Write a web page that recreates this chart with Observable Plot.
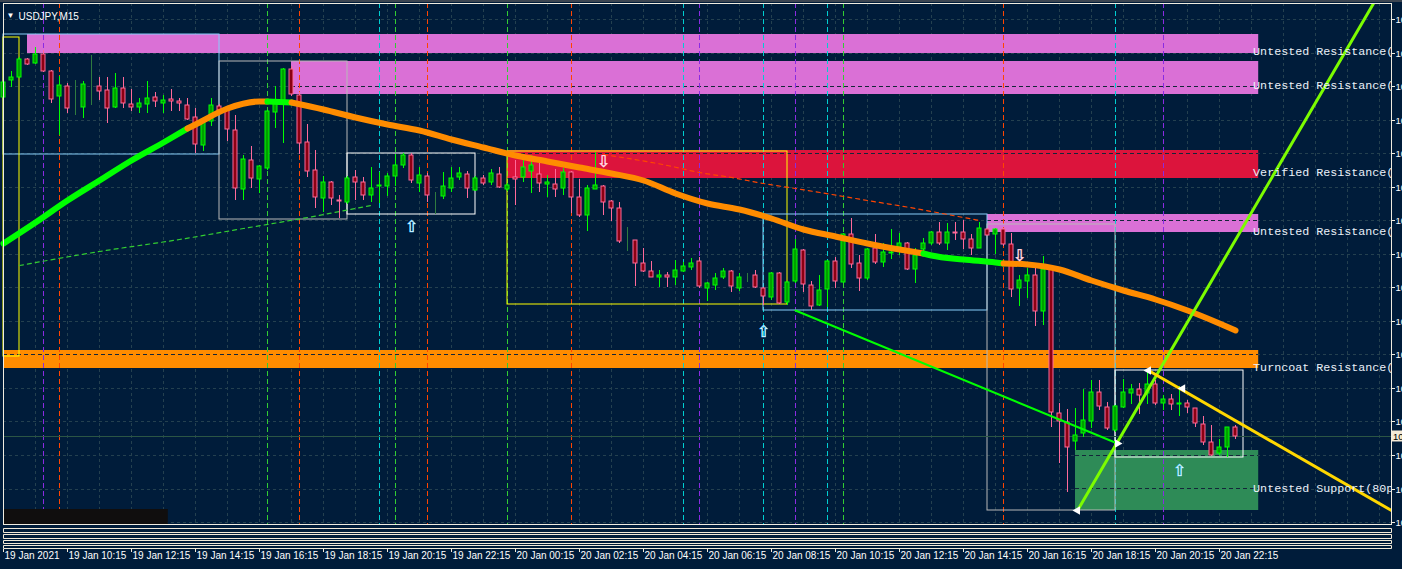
<!DOCTYPE html>
<html><head><meta charset="utf-8">
<script src="https://cdn.jsdelivr.net/npm/d3@7"></script>
<script src="https://cdn.jsdelivr.net/npm/@observablehq/plot@0.6"></script>
<style>
html,body{margin:0;padding:0;background:#001c3a;overflow:hidden;width:1402px;height:569px;}
#chart svg{display:block;}
</style></head><body><div id="chart"></div>
<script>
// ---------- data ----------
const symbol = "USDJPY,M15";
const timeLabels = ["19 Jan 2021","19 Jan 10:15","19 Jan 12:15","19 Jan 14:15","19 Jan 16:15","19 Jan 18:15","19 Jan 20:15","19 Jan 22:15","20 Jan 00:15","20 Jan 02:15","20 Jan 04:15","20 Jan 06:15","20 Jan 08:15","20 Jan 10:15","20 Jan 12:15","20 Jan 14:15","20 Jan 16:15","20 Jan 18:15","20 Jan 20:15","20 Jan 22:15"];
const barsPerLabel = 8;
const priceTicks = [104.100,104.066,104.033,103.999,103.966,103.932,103.899,103.865,103.832,103.798,103.765,103.731,103.698,103.664,103.630,103.597];

const opens = [104.022,104.039,104.042,104.060,104.056,104.065,104.048,104.023,104.033,104.012,
104.012,104.034,104.033,104.029,104.012,104.031,104.015,104.012,104.015,104.022,
104.016,104.020,104.018,104.014,104.002,103.974,103.998,104.013,104.009,103.989,
103.930,103.959,103.940,103.951,104.007,104.016,104.050,104.024,103.977,103.949,
103.921,103.937,103.919,103.917,103.942,103.937,103.924,103.933,103.933,103.943,
103.954,103.964,103.936,103.943,103.923,103.923,103.931,103.942,103.945,103.929,
103.941,103.937,103.945,103.930,103.942,103.942,103.948,103.945,103.935,103.935,
103.931,103.947,103.922,103.904,103.930,103.933,103.918,103.911,103.879,103.879,
103.856,103.848,103.842,103.844,103.842,103.848,103.852,103.858,103.831,103.834,
103.842,103.848,103.831,103.844,103.844,103.831,103.822,103.846,103.817,103.838,
103.869,103.834,103.814,103.830,103.858,103.837,103.885,103.856,103.841,103.871,
103.857,103.866,103.872,103.876,103.850,103.870,103.876,103.887,103.876,103.887,
103.887,103.880,103.871,103.890,103.885,103.890,103.875,103.831,103.838,103.844,
103.808,103.850,103.706,103.697,103.678,103.686,103.698,103.727,103.712,103.689,
103.712,103.726,103.730,103.726,103.735,103.716,103.720,103.715,103.716,103.711,
103.695,103.677,103.666,103.672,103.692];
const highs = [104.041,104.048,104.062,104.061,104.072,104.069,104.049,104.043,104.036,104.039,
104.038,104.064,104.042,104.042,104.046,104.042,104.030,104.021,104.038,104.027,
104.024,104.030,104.021,104.021,104.011,104.002,104.021,104.015,104.012,104.004,
103.964,103.973,103.954,104.009,104.033,104.051,104.053,104.027,103.995,103.969,
103.943,103.938,103.924,103.943,103.949,103.942,103.952,103.947,103.946,103.965,
103.966,103.966,103.952,103.946,103.927,103.947,103.952,103.952,103.948,103.943,
103.944,103.950,103.952,103.936,103.959,103.959,103.964,103.956,103.944,103.950,
103.951,103.948,103.940,103.934,103.967,103.934,103.919,103.917,103.892,103.879,
103.871,103.858,103.849,103.847,103.859,103.857,103.861,103.862,103.837,103.846,
103.851,103.849,103.846,103.846,103.849,103.832,103.847,103.847,103.838,103.880,
103.870,103.838,103.844,103.859,103.862,103.886,103.901,103.864,103.871,103.885,
103.876,103.890,103.886,103.877,103.871,103.881,103.888,103.897,103.896,103.897,
103.899,103.885,103.897,103.891,103.891,103.891,103.886,103.844,103.851,103.851,
103.863,103.854,103.716,103.710,103.711,103.730,103.739,103.739,103.717,103.714,
103.740,103.735,103.736,103.748,103.739,103.724,103.725,103.733,103.719,103.711,
103.703,103.694,103.680,103.692,103.694];
const lows = [104.019,104.032,104.041,104.054,104.055,104.047,104.016,103.984,104.006,104.004,
104.001,104.014,104.019,103.996,104.011,104.011,104.008,104.006,104.006,104.012,
104.006,104.008,104.008,103.999,103.966,103.968,103.993,104.006,103.978,103.919,
103.919,103.931,103.926,103.949,103.991,103.976,104.023,103.965,103.942,103.911,
103.907,103.914,103.901,103.915,103.919,103.919,103.917,103.916,103.923,103.933,
103.951,103.936,103.927,103.917,103.905,103.920,103.927,103.939,103.921,103.928,
103.934,103.934,103.931,103.928,103.914,103.937,103.926,103.927,103.922,103.922,
103.924,103.906,103.902,103.888,103.930,103.904,103.898,103.876,103.868,103.833,
103.847,103.842,103.832,103.832,103.834,103.847,103.849,103.831,103.818,103.829,
103.840,103.827,103.828,103.837,103.831,103.814,103.819,103.815,103.814,103.836,
103.827,103.809,103.813,103.812,103.831,103.836,103.851,103.828,103.839,103.855,
103.852,103.860,103.864,103.849,103.836,103.867,103.874,103.874,103.869,103.879,
103.870,103.864,103.871,103.884,103.865,103.873,103.822,103.813,103.821,103.793,
103.794,103.692,103.656,103.627,103.669,103.682,103.691,103.709,103.689,103.687,
103.711,103.715,103.705,103.715,103.714,103.709,103.709,103.703,103.706,103.692,
103.674,103.663,103.664,103.662,103.680];
const closes = [104.037,104.042,104.060,104.055,104.065,104.048,104.020,104.034,104.011,104.012,
104.035,104.034,104.028,104.011,104.031,104.016,104.012,104.016,104.021,104.018,
104.019,104.018,104.016,104.000,103.975,103.997,104.014,104.009,103.990,103.931,
103.960,103.941,103.953,104.008,104.016,104.050,104.025,103.976,103.948,103.922,
103.937,103.921,103.918,103.941,103.937,103.924,103.931,103.934,103.943,103.954,
103.964,103.939,103.944,103.924,103.923,103.933,103.941,103.946,103.931,103.941,
103.936,103.946,103.932,103.934,103.940,103.952,103.954,103.936,103.937,103.930,
103.947,103.922,103.904,103.931,103.934,103.917,103.911,103.878,103.879,103.856,
103.848,103.842,103.844,103.842,103.849,103.853,103.856,103.833,103.836,103.841,
103.848,103.833,103.842,103.844,103.832,103.823,103.846,103.816,103.837,103.870,
103.835,103.813,103.829,103.858,103.838,103.885,103.855,103.841,103.870,103.857,
103.867,103.867,103.876,103.850,103.864,103.876,103.887,103.876,103.887,103.886,
103.880,103.871,103.891,103.884,103.890,103.875,103.830,103.839,103.844,103.808,
103.850,103.707,103.698,103.672,103.684,103.699,103.727,103.713,103.691,103.713,
103.727,103.730,103.724,103.735,103.716,103.720,103.715,103.716,103.712,103.696,
103.677,103.664,103.672,103.692,103.683];

// moving average (thick), sampled at bars
const maBars = [0,4,8,12,16,20,23,24,28,32,33,36,40,44,48,52,56,60,64,68,72,76,80,84,88,92,96,100,104,108,112,115,116,120,124,125,128,132,136,140,144,148,152,154];
const maValues = [103.876,103.897,103.919,103.939,103.959,103.977,103.991,103.995,104.011,104.018,104.018,104.017,104.010,104.002,103.995,103.989,103.980,103.972,103.964,103.958,103.952,103.946,103.939,103.926,103.916,103.910,103.901,103.890,103.883,103.876,103.870,103.866,103.864,103.860,103.857,103.856,103.855,103.850,103.839,103.829,103.820,103.809,103.796,103.789];
const maRisingSpans = [[0,23],[33,36],[115,125]];

// slow average (thin dashed), visible parts
const ma2UpBars = [2,12,22,30,38,46];
const ma2UpValues = [103.854,103.868,103.880,103.891,103.902,103.914];
const ma2DownBars = [75,83,87,91,95,99,108,114,118,122];
const ma2DownValues = [103.965,103.954,103.947,103.942,103.936,103.931,103.919,103.911,103.905,103.899];

// supply / demand zones
const zoneTypes = ["Untested Resistance","Untested Resistance","Verified Resistance","Untested Resistance","Turncoat Resistance","Untested Support"];
const zoneLabels = ["Untested Resistance(78pips)","Untested Resistance(54pips)","Verified Resistance(42pips)","Untested Resistance(18pips)","Turncoat Resistance(12pips)","Untested Support(80pips)"];
const zoneStart = [3,36,63,123,0,134];
const zoneEndBar = 156.9;
const zoneHigh = [104.085,104.058,103.969,103.905,103.769,103.669];
const zoneLow = [104.066,104.025,103.941,103.887,103.751,103.609];
const zoneLabelPrice = [104.068,104.034,103.947,103.888,103.752,103.631];
const zoneDashPrice = [104.033,103.966,103.899,103.765,103.664,103.631];
const zoneDashStart = [36,63,123,0,134,134];

// session range boxes
const boxStart = [0,0,27,43,63,95,123,139];
const boxEnd = [27,2,43,59,98,123,139,155];
const boxHigh = [104.085,104.082,104.058,103.966,103.968,103.905,103.895,103.749];
const boxLow = [103.965,103.763,103.900,103.905,103.815,103.809,103.609,103.662];
const boxKind = ["blue","yellow","gray","white","yellow","blue","gray","white"];

// vertical separators
const vlineBars = [5,7,33,37,47,49,53,63,71,85,87,95,99,103,105,125,139,145];
const vlineKind = ["purple","orange","green","orange","cyan","green","orange","green","orange","cyan","purple","cyan","purple","cyan","green","orange","cyan","purple"];

// signal arrows
const arrowBars = [51,95,147,75,127];
const arrowPrices = [103.893,103.788,103.649,103.958,103.864];
const arrowDir = ["up","up","up","down","down"];

// trend lines
const trendGreenBars = [99,139.25];
const trendGreenPrices = [103.809,103.676];
const trendLimeBars = [134.25,171.25];
const trendLimePrices = [103.609,104.116];
const trendGoldBars = [143.125,173.5];
const trendGoldPrices = [103.749,103.609];
const markerBars = [143.125,147.4,139.25,134.25];
const markerPrices = [103.749,103.731,103.676,103.609];
const markerDir = ["left","left","right","left"];

// dark indicator panel block (bottom-left)
const panelBars = [0,20.6];
const panelPrices = [103.595,103.610];

// ---------- styles ----------
const BG = "#001c3a";
const GRID = "#24404f";
const kindColor = {blue:"#87cefa", yellow:"#ffff00", gray:"#b8b8b8", white:"#ffffff",
  purple:"#8a2be2", orange:"#ff4500", green:"#32cd32", cyan:"#00ced1"};
const zoneColor = {"Untested Resistance":"#da70d6","Verified Resistance":"#dc143c","Turncoat Resistance":"#ff8c00","Untested Support":"#2e8b57"};

// ---------- derived tables ----------
const candles = opens.map((o,i)=>({i, o, h:highs[i], l:lows[i], c:closes[i]}));
const bodyFill = d => d.c > d.o ? "#00a000" : d.c < d.o ? "#8b0012" : "#2f7b3f";
const edgeColor = d => d.c > d.o ? "#00ff00" : d.c < d.o ? "#ff6a9a" : "#2f7b3f";

const maRows = [];
{
  let seg = 0, prev = null;
  for (let k = 0; k < maBars.length - 1; k++) {
    const a = maBars[k], b = maBars[k+1];
    const rising = maRisingSpans.some(([s,e]) => a >= s && b <= e);
    const color = rising ? "#00ff00" : "#ff8c00";
    if (color !== prev) { seg++; maRows.push({x:a, y:maValues[k], seg, color}); prev = color; }
    maRows.push({x:b, y:maValues[k+1], seg, color});
  }
}
const ma2Rows = [
  ...ma2UpBars.map((b,k)=>({x:b, y:ma2UpValues[k], seg:"up", color:"#32cd32"})),
  ...ma2DownBars.map((b,k)=>({x:b, y:ma2DownValues[k], seg:"down", color:"#ff4500"}))
];
const zones = zoneTypes.map((t,k)=>({t, label:zoneLabels[k], x1:zoneStart[k], x2:zoneEndBar, y1:zoneLow[k], y2:zoneHigh[k], ly:zoneLabelPrice[k]}));
const zoneDashes = zoneDashPrice.map((p,k)=>({x1:zoneDashStart[k], x2:zoneEndBar, y:p}));
const boxes = boxStart.map((s,k)=>({x1:s, x2:boxEnd[k], y1:boxLow[k], y2:boxHigh[k], kind:boxKind[k]}));
const vlines = vlineBars.map((b,k)=>({x:b, kind:vlineKind[k]}));
const arrows = arrowBars.map((b,k)=>({x:b, y:arrowPrices[k], dir:arrowDir[k]}));
const gridBars = d3.range(0, 174, 4);
const lastClose = closes[closes.length-1];

const line2 = (bars, prices) => bars.map((b,k)=>({x:b, y:prices[k]}));

const plot = Plot.plot({
  width: 1402, height: 569,
  marginLeft: 3, marginRight: 11, marginTop: 3, marginBottom: 45,
  x: {domain: [0, 173.5], axis: null},
  y: {domain: [103.595, 104.116], axis: null},
  style: {background: BG, color: "#ffffff", fontFamily: "Liberation Sans", fontSize: "9px"},
  marks: [
    Plot.gridY(priceTicks, {stroke: GRID, strokeOpacity: 1, strokeDasharray: "3,3"}),
    Plot.gridX(gridBars, {stroke: GRID, strokeOpacity: 1, strokeDasharray: "3,3"}),
    // zones
    Plot.rect(zones, {x1:"x1", x2:"x2", y1:"y1", y2:"y2", fill: d => zoneColor[d.t], clip: true}),
    Plot.ruleY(zoneDashes, {x1:"x1", x2:"x2", y:"y", stroke:"#14263a", strokeDasharray:"4,3", clip: true}),
    // separators
    Plot.ruleX(vlines, {x:"x", stroke: d => kindColor[d.kind], strokeDasharray: "5,3"}),
    // boxes
    Plot.rect(boxes, {x1:"x1", x2:"x2", y1:"y1", y2:"y2", fill:"none", stroke: d => kindColor[d.kind], strokeWidth: 1}),
    // slow average
    Plot.line(ma2Rows, {x:"x", y:"y", z:"seg", stroke:"color", strokeWidth: 1.2, strokeDasharray: "4,4", curve: "monotone-x"}),
    // bid line
    Plot.ruleY([lastClose], {stroke: "#2b5544", strokeWidth: 1}),
    // candles
    Plot.ruleX(candles, {x:"i", y1:"l", y2:"h", stroke: edgeColor}),
    Plot.rect(candles, {x1: d => d.i - 0.25, x2: d => d.i + 0.25, y1:"o", y2:"c", fill: bodyFill, stroke: edgeColor, strokeWidth: 1}),
    // moving average
    Plot.line(maRows, {x:"x", y:"y", z:"seg", stroke:"color", strokeWidth: 6, curve: "monotone-x", strokeLinecap: "round"}),
    // trend lines
    Plot.line(line2(trendGreenBars, trendGreenPrices), {x:"x", y:"y", stroke:"#00ff00", strokeWidth: 2, clip: true}),
    Plot.line(line2(trendLimeBars, trendLimePrices), {x:"x", y:"y", stroke:"#7cfc00", strokeWidth: 3, clip: true}),
    Plot.line(line2(trendGoldBars, trendGoldPrices), {x:"x", y:"y", stroke:"#ffd700", strokeWidth: 3, clip: true}),
    Plot.dot(markerBars.map((b,k)=>({x:b, y:markerPrices[k], dir:markerDir[k]})), {x:"x", y:"y", symbol:"triangle", r: 3.2, fill:"#ffffff", stroke:"none", rotate: d => d.dir === "left" ? -90 : 90}),
    // panel block
    Plot.rect([0], {x1: () => panelBars[0], x2: () => panelBars[1], y1: () => panelPrices[0], y2: () => panelPrices[1], fill: "#100e0e"}),
    // arrows
    Plot.text(arrows, {x:"x", y:"y", text: d => d.dir === "up" ? "⇧" : "⇩", fontSize: 16, fontFamily: "DejaVu Sans",
      fill: d => d.dir === "up" ? "#d8f4ff" : "#ffe6ee", stroke: d => d.dir === "up" ? "#4fc8ff" : "#ff8fb0", strokeWidth: 0.6}),
    // zone labels
    Plot.text(zones, {x: 156.2, y:"ly", text:"label", textAnchor:"start", fontFamily:"Liberation Mono", fontSize: 11.7, fill:"#eaf1f8", clip: true}),
    // time axis labels
    Plot.text(timeLabels, {x: (d,k) => k * barsPerLabel, text: d => d, frameAnchor: "bottom", dy: 34, dx: 1, textAnchor: "start", fontSize: 10, fill: "#ffffff"}),
    // price axis
    Plot.axisY(priceTicks, {anchor: "right", tickSize: 3, tickPadding: 1, tickFormat: d => d.toFixed(3), fontSize: 9.5, label: null, stroke: "#f0ece0", fill: "#ffffff"}),
    // header
    Plot.text(["▼"], {frameAnchor: "top-left", dx: 7, dy: 9, fontSize: 8, fill: "#ffffff", textAnchor: "middle"}),
    Plot.text([symbol], {frameAnchor: "top-left", dx: 15, dy: 9, fontSize: 10, fill: "#ffffff", textAnchor: "start"}),
    Plot.frame({stroke: "#f0ece0"})
  ]
});
document.getElementById("chart").appendChild(plot);

// ---------- chrome overlay (window decorations) ----------
const svg = d3.select(plot);
const xs = plot.scale("x"), ys = plot.scale("y");
const g = svg.append("g");
g.append("rect").attr("x",0).attr("y",0).attr("width",1402).attr("height",2).attr("fill","#3c4551");
const left = xs.apply(0) + 0.5, right = xs.apply(173.5) + 0.5;
[528,532,534,538,540,543,545,548].forEach(y => {
  g.append("line").attr("x1",left).attr("x2",right).attr("y1",y+0.5).attr("y2",y+0.5).attr("stroke","#f3ead8");
});
[[528,532],[534,538],[540,543],[545,548]].forEach(([a,b]) => {
  g.append("line").attr("x1",left).attr("x2",left).attr("y1",a+0.5).attr("y2",b+0.5).attr("stroke","#f3ead8");
  g.append("line").attr("x1",right).attr("x2",right).attr("y1",a+0.5).attr("y2",b+0.5).attr("stroke","#f3ead8");
});
timeLabels.forEach((t,k) => {
  const x = xs.apply(k*barsPerLabel) + 0.5;
  g.append("line").attr("x1",x).attr("x2",x).attr("y1",549).attr("y2",552).attr("stroke","#f3ead8");
});
const py = ys.apply(lastClose);
g.append("rect").attr("x",1392).attr("y",py-5.5).attr("width",12).attr("height",11).attr("fill","#f5ead6");
g.append("text").attr("x",1393).attr("y",py+3.5).attr("text-anchor","start").attr("font-size",9.5).attr("fill","#000").attr("font-family","Liberation Sans").text(lastClose.toFixed(3));
</script>
</body></html>
